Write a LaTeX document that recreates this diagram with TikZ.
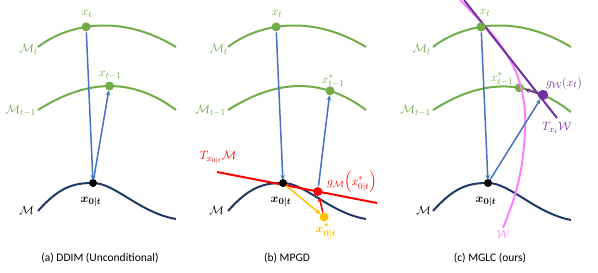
\documentclass[tikz,border=0pt]{standalone}
\usepackage{amsmath}
\usepackage{bm}
\usepackage{fontspec}
\setmainfont{Carlito}
\usetikzlibrary{arrows.meta}
\definecolor{mgreen}{HTML}{70AD47}
\definecolor{mblue}{HTML}{4472C4}
\definecolor{mnavy}{HTML}{1F3864}
\definecolor{mred}{HTML}{FF0000}
\definecolor{myellow}{HTML}{FFC000}
\definecolor{mpurple}{HTML}{7030A0}
\definecolor{mpink}{HTML}{FF80FF}
\begin{document}
\begin{tikzpicture}[x=1pt,y=-1pt,
  gcurve/.style={draw=mgreen, line width=2pt},
  ncurve/.style={draw=mnavy, line width=2pt},
  dotg/.style={circle, fill=mgreen, inner sep=0pt, minimum size=9pt},
  dotk/.style={circle, fill=black, inner sep=0pt, minimum size=8pt},
  dotr/.style={circle, fill=mred, inner sep=0pt, minimum size=9pt},
  doty/.style={circle, fill=myellow, inner sep=0pt, minimum size=9pt},
  dotp/.style={circle, fill=mpurple, inner sep=0pt, minimum size=10pt},
  barrow/.style={draw=mblue, line width=1.5pt, -{Stealth[length=5pt,width=4.5pt]}, shorten >=-1pt},
  lbl/.style={font=\fontsize{12.5}{14}\selectfont, inner sep=0pt},
  captxt/.style={font=\fontsize{11.5}{13}\selectfont, inner sep=0pt}
]
\useasboundingbox (0,0) rectangle (598,273);

% ---------- panel (a) ----------
\draw[gcurve] (38,47) .. controls (62,28) and (115,10) .. (176,47)
  node[dotg, pos=0.45] (a-xt) {};
\draw[gcurve] (38,110) .. controls (70,90) and (120,68) .. (176,110)
  node[dotg, pos=0.58] (a-xt1) {};
\draw[ncurve] (38,211) .. controls (60,186) and (75,183) .. (93,183)
  .. controls (115,183) and (140,213) .. (176,219);
\node[dotk] (a-x0) at (93,183) {};
\node[lbl, text=mgreen, anchor=east] (a-lMt) at (38,49) {$\mathcal{M}_t$};
\node[lbl, text=mgreen, anchor=east] (a-lMt1) at (36,111) {$\mathcal{M}_{t-1}$};
\node[lbl, anchor=east] (a-lM) at (34,210) {$\mathcal{M}$};
\node[lbl, text=mgreen] (a-lxt) at (87,14) {$x_t$};
\node[lbl, text=mgreen] (a-lxt1) at (110,75) {$x_{t-1}$};
\node[lbl] (a-lx0) at (91,202) {$\bm{x_{0|t}}$};
\draw[barrow] (a-xt) -- (a-x0);
\draw[barrow] (a-x0) -- (a-xt1);
\node[captxt] (a-cap) at (100,258) {(a) DDIM (Unconditional)};

% ---------- panel (b) ----------
\draw[gcurve] (228,47) .. controls (252,28) and (305,10) .. (366,47)
  node[dotg, pos=0.45] (b-xt) {};
\draw[gcurve] (228,110) .. controls (260,90) and (310,68) .. (366,110)
  node[dotg, pos=0.78] (b-xt1) {};
\draw[ncurve] (228,211) .. controls (250,186) and (265,183) .. (283,183)
  .. controls (305,183) and (330,213) .. (366,219);
\draw[mred, line width=2pt] (217,172) -- (377,203) node[dotr, pos=0.63] (b-g) {};
\node[dotk] (b-x0) at (283,183) {};
\node[doty] (b-xs) at (324,217) {};
\node[lbl, text=mgreen, anchor=east] (b-lMt) at (228,49) {$\mathcal{M}_t$};
\node[lbl, text=mgreen, anchor=east] (b-lMt1) at (226,111) {$\mathcal{M}_{t-1}$};
\node[lbl, anchor=east] (b-lM) at (224,210) {$\mathcal{M}$};
\node[lbl, text=mgreen] (b-lxt) at (277,14) {$x_t$};
\node[lbl, text=mgreen] (b-lxt1) at (333,81) {$x^*_{t-1}$};
\node[lbl] (b-lx0) at (281,202) {$\bm{x_{0|t}}$};
\node[lbl, text=mred] (b-lT) at (218,158) {$T_{x_{0|t}}\mathcal{M}$};
\node[lbl, text=mred, anchor=west] (b-lg) at (327,182) {$g_{\mathcal{M}}\!\left(x^*_{0|t}\right)$};
\node[lbl, text=myellow] (b-lxs) at (326,231) {$\bm{x^*_{0|t}}$};
\draw[barrow] (b-xt) -- (b-x0);
\draw[barrow] (b-g) -- (b-xt1);
\draw[myellow, line width=1.5pt, -{Stealth[length=5pt,width=4.5pt]}] (b-x0) -- (b-xs);
\draw[mred, line width=1.5pt, -{Stealth[length=5pt,width=4.5pt]}] (b-xs) -- (b-g);
\node[captxt] (b-cap) at (287,258) {(b) MPGD};

% ---------- panel (c) ----------
\draw[gcurve] (433,47) .. controls (457,28) and (510,10) .. (571,47)
  node[dotg, pos=0.45] (c-xt) {};
\draw[gcurve] (433,110) .. controls (465,90) and (515,68) .. (571,112)
  node[dotg, pos=0.68] (c-xt1) {}
  node[dotp, pos=0.83] (c-g) {};
\draw[ncurve] (433,211) .. controls (455,186) and (470,183) .. (488,183)
  .. controls (510,183) and (535,213) .. (571,220);
\node[dotk] (c-x0) at (488,183) {};
\draw[mpink, line width=2pt] (460,0) .. controls (500,40) and (528,70) .. (525,130)
  .. controls (523,180) and (512,205) .. (503,228);
\coordinate (c-T1) at (464,0);
\coordinate (c-T2) at (557,118);
\draw[mpurple, line width=2pt] (c-T1) -- (c-T2);
\node[dotg] at (c-xt) {};
\node[dotp] at (c-g) {};
\node[lbl, text=mgreen, anchor=east] (c-lMt) at (431,49) {$\mathcal{M}_t$};
\node[lbl, text=mgreen, anchor=east] (c-lMt1) at (431,111) {$\mathcal{M}_{t-1}$};
\node[lbl, anchor=east] (c-lM) at (431,210) {$\mathcal{M}$};
\node[lbl, text=mgreen] (c-lxt) at (485,13) {$x_t$};
\node[lbl, text=mgreen] (c-lxt1) at (502,79) {$x^*_{t-1}$};
\node[lbl] (c-lx0) at (486,202) {$\bm{x_{0|t}}$};
\node[lbl, text=mpurple, anchor=west] (c-lg) at (546,83) {$g_{\mathcal{W}}(x_t)$};
\node[lbl, text=mpurple, anchor=west] (c-lT) at (542,128) {$T_{x_t}\mathcal{W}$};
\node[lbl, text=mpink] (c-lW) at (503,234) {$\mathcal{W}$};
\draw[barrow] (c-xt) -- (c-x0);
\draw[barrow] (c-x0) -- (c-g);
\draw[mpurple, line width=1.5pt, -{Stealth[length=5pt,width=4.5pt]}] (c-g) -- (c-xt1);
\node[captxt] (c-cap) at (490,258) {(c) MGLC (ours)};
\end{tikzpicture}
\end{document}
